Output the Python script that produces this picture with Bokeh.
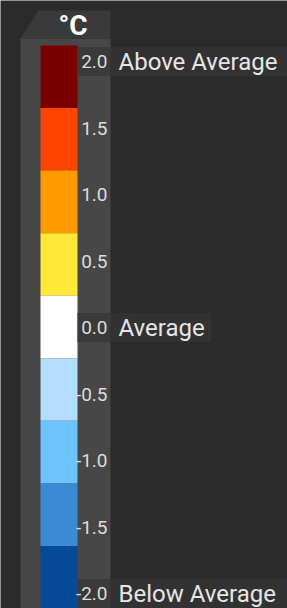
from bokeh.plotting import figure
from bokeh.models import Range1d, ColumnDataSource
from bokeh.core.properties import value
from bokeh.embed import file_html
from bokeh.resources import INLINE

# ---- data ----
unit_label = "°C"
segment_colors = ["#7a0000", "#ff4300", "#ff9a00", "#ffe83a", "#ffffff",
                  "#b4dcfb", "#6cc3fd", "#3a8bd4", "#054a96"]
tick_values = [2.0, 1.5, 1.0, 0.5, 0.0, -0.5, -1.0, -1.5, -2.0]
tick_labels = ["2.0", "1.5", "1.0", "0.5", "0.0", "-0.5", "-1.0", "-1.5", "-2.0"]
named_values = [2.0, 0.0, -2.0]
named_labels = ["Above Average", "Average", "Below Average"]

# ---- layout (value units vertically, pixels horizontally) ----
W, H = 287, 608
PX = 133.0                 # pixels per degree
Y_TOP = 2.0 + 61 / PX
Y_BOT = Y_TOP - H / PX
HEADER_TOP = 2.0 + 51 / PX
PANEL_TOP = 2.0 + 23 / PX
BAR_TOP = 2.0 + 16 / PX
SEG = 62.56 / PX
BOX_HALF = 14.5 / PX

BG = "#2b2b2b"
p = figure(width=W, height=H, x_range=Range1d(0, W), y_range=Range1d(Y_BOT, Y_TOP),
           output_backend="svg", toolbar_location=None, min_border=0,
           background_fill_color=BG, border_fill_color=BG, outline_line_color=None)
p.axis.visible = False
p.grid.visible = False

# panel and header
p.quad(left=[20], right=[110], top=[PANEL_TOP], bottom=[Y_BOT - 1], color="#474747", line_color=None)
p.patch(x=[20, 38, 110, 110], y=[PANEL_TOP, HEADER_TOP, HEADER_TOP, PANEL_TOP],
        color="#3a3a3a", line_color=None)
p.text(x=[72.5], y=[2.0 + 36 / PX], text=[unit_label], text_align="center",
       text_baseline="middle", text_font=value("Roboto"), text_font_style="bold",
       text_font_size="28px", text_color="#ffffff")

# colour segments
n = len(segment_colors)
tops = [BAR_TOP - i * SEG for i in range(n)]
bots = [t - SEG for t in tops]
seg_src = ColumnDataSource(dict(top=tops, bottom=bots, color=segment_colors))
p.quad(left=40, right=77, top="top", bottom="bottom", color="color", line_color=None, source=seg_src)

# tick label boxes + labels
tick_src = ColumnDataSource(dict(y=tick_values, text=tick_labels))
box_src = ColumnDataSource(dict(top=[v + BOX_HALF for v in named_values],
                                bottom=[v - BOX_HALF for v in named_values]))
p.quad(left=77, right=110, top="top", bottom="bottom", source=box_src,
       color="#3a3a3a", line_color=None)
p.text(x=107, y="y", text="text", source=tick_src, text_align="right", text_baseline="middle",
       text_font=value("Roboto"), text_font_size="19px", text_color="#dcdcdc")

# named labels with boxes
right_edges = [W, 211, W]
name_src = ColumnDataSource(dict(y=named_values, text=named_labels, right=right_edges,
                                 top=[v + BOX_HALF for v in named_values],
                                 bottom=[v - BOX_HALF for v in named_values]))
p.quad(left=110, right="right", top="top", bottom="bottom", source=name_src,
       color="#323232", line_color=None)
p.text(x=118, y="y", text="text", source=name_src, text_align="left", text_baseline="middle",
       text_font=value("Roboto"), text_font_size="24px", text_color="#e6e6e6")

open("out.html", "w").write(file_html(p, INLINE))
